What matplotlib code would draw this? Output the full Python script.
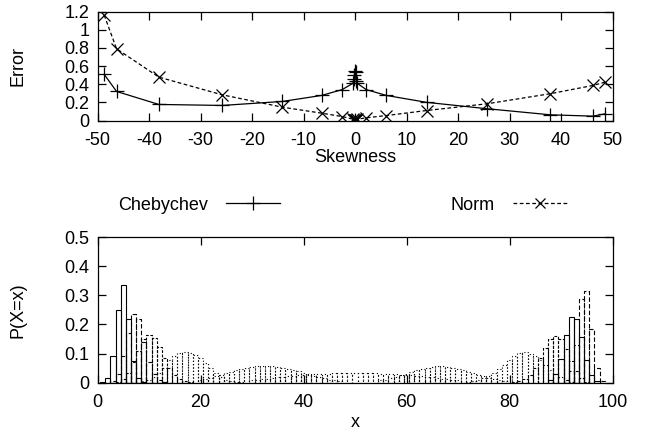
import matplotlib
matplotlib.use('Agg')
import matplotlib.pyplot as plt
from matplotlib.lines import Line2D
from matplotlib.ticker import FuncFormatter

plt.rcParams['font.family'] = ['Liberation Sans', 'DejaVu Sans']
plt.rcParams['font.size'] = 13
plt.rcParams['axes.unicode_minus'] = False

# top panel: error vs skewness
skewness = [-48.7, -46.3, -38.1, -25.8, -14.1, -6.5, -2.5, -0.4, -0.25, -0.1, 0.0,
            0.1, 0.25, 0.4, 2.2, 6.1, 13.9, 25.6, 37.9, 46.2, 48.6]
chebychev = [0.508, 0.32, 0.177, 0.166, 0.21, 0.276, 0.34, 0.41, 0.46, 0.50, 0.55,
             0.53, 0.44, 0.41, 0.34, 0.276, 0.2, 0.13, 0.063, 0.048, 0.074]
norm = [1.16, 0.79, 0.478, 0.283, 0.147, 0.081, 0.044, 0.015, 0.01, 0.005, 0.003,
        0.005, 0.01, 0.015, 0.03, 0.055, 0.11, 0.184, 0.295, 0.386, 0.423]

# bottom panel: the distributions, (first x, probabilities)
dist_l1 = (1, [0.003, 0.017, 0.09, 0.25, 0.335, 0.22, 0.075, 0.015, 0.002])
dist_l2 = (3, [0.005, 0.03, 0.09, 0.17, 0.237, 0.217, 0.14, 0.07, 0.03, 0.008, 0.003])
dist_l3 = (4, [0.003, 0.012, 0.035, 0.07, 0.11, 0.15, 0.163, 0.155, 0.123, 0.085,
               0.05, 0.025, 0.012, 0.005, 0.002])
dist_l4 = (9, [0.005, 0.01, 0.02, 0.035, 0.05, 0.078, 0.092, 0.102, 0.106, 0.103,
               0.095, 0.085, 0.068, 0.05, 0.033, 0.02, 0.011, 0.006, 0.003, 0.002])
dist_l5 = (20, [0.008, 0.012, 0.017, 0.022, 0.027, 0.032, 0.037, 0.042, 0.047, 0.051,
                0.054, 0.057, 0.058, 0.058, 0.057, 0.055, 0.052, 0.048, 0.044, 0.039,
                0.034, 0.029, 0.024, 0.019, 0.015, 0.011, 0.008, 0.005])
dist_mid = (30, [0.008, 0.01, 0.012, 0.014, 0.016, 0.018, 0.02, 0.022, 0.024, 0.026,
                 0.027, 0.028, 0.029, 0.03, 0.031, 0.031, 0.032, 0.032, 0.032, 0.032,
                 0.032, 0.032, 0.032, 0.032, 0.032, 0.031, 0.031, 0.03, 0.029, 0.028,
                 0.027, 0.026, 0.024, 0.022, 0.02, 0.018, 0.016, 0.014, 0.012, 0.01, 0.008])
dist_r5 = (55, [0.008, 0.011, 0.015, 0.02, 0.025, 0.031, 0.037, 0.043, 0.048, 0.052,
                0.055, 0.056, 0.056, 0.055, 0.052, 0.048, 0.043, 0.038, 0.033, 0.028,
                0.022, 0.017, 0.012, 0.008, 0.005])
dist_r4 = (72, [0.003, 0.006, 0.01, 0.016, 0.024, 0.034, 0.047, 0.062, 0.078, 0.092,
                0.101, 0.104, 0.1, 0.09, 0.078, 0.062, 0.045, 0.03, 0.018, 0.009, 0.004])
dist_r3 = (81, [0.002, 0.005, 0.012, 0.025, 0.05, 0.085, 0.12, 0.149, 0.16, 0.15,
                0.115, 0.075, 0.04, 0.015, 0.004])
dist_r2 = (88, [0.01, 0.03, 0.08, 0.163, 0.226, 0.22, 0.158, 0.078, 0.025, 0.006])
dist_r1 = (91, [0.01, 0.04, 0.13, 0.287, 0.315, 0.183, 0.049, 0.005])

dists = [dist_l1, dist_l2, dist_l3, dist_l4, dist_l5, dist_mid,
         dist_r5, dist_r4, dist_r3, dist_r2, dist_r1]
styles = ['-', (0, (4, 2)), (0, (2.5, 1.5)), (0, (1, 2)), (0, (1, 2)), (0, (1, 2.5)),
          (0, (1, 2)), (0, (1, 2)), (0, (2.5, 1.5)), '-', (0, (4, 2))]

fig = plt.figure(figsize=(6.47, 4.40), dpi=100)
ax1 = fig.add_axes([0.1507, 0.7261, 0.796, 0.2477])
ax2 = fig.add_axes([0.1507, 0.1302, 0.796, 0.3311])

ax1.plot(skewness, chebychev, color='black', lw=0.9, marker='+', ms=10, mew=0.9)
ax1.plot(skewness, norm, color='black', lw=0.9, ls=(0, (3, 2)), marker='x', ms=9, mew=0.9)
ax1.set_xlim(-50, 50)
ax1.set_ylim(0, 1.2)
ax1.set_xticks(range(-50, 51, 10))
ax1.set_yticks([0, 0.2, 0.4, 0.6, 0.8, 1.0, 1.2])
ax1.set_xlabel('Skewness')
ax1.set_ylabel('Error')
ax1.xaxis.set_label_coords(0.5, -0.26)
ax1.yaxis.set_label_coords(-0.137, 0.5)

for (start, probs), ls in zip(dists, styles):
    xs = list(range(start, start + len(probs)))
    ax2.bar(xs, probs, width=1, fill=False, edgecolor='black', linewidth=0.8, linestyle=ls)
ax2.set_xlim(0, 100)
ax2.set_ylim(0, 0.5)
ax2.set_xticks(range(0, 101, 20))
ax2.set_yticks([0, 0.1, 0.2, 0.3, 0.4, 0.5])
ax2.set_xlabel('x')
ax2.set_ylabel('P(X=x)')
ax2.xaxis.set_label_coords(0.5, -0.215)
ax2.yaxis.set_label_coords(-0.137, 0.5)

fmt = FuncFormatter(lambda v, p: '%g' % round(v, 3))
for ax in (ax1, ax2):
    ax.yaxis.set_major_formatter(fmt)
    ax.tick_params(direction='in', top=True, right=True, length=6, width=0.9, pad=8)
    ax.tick_params(axis='y', pad=6)
    for s in ax.spines.values():
        s.set_linewidth(0.9)

h_cheb = Line2D([], [], color='black', lw=0.9, marker='+', ms=10, mew=0.9)
h_norm = Line2D([], [], color='black', lw=0.9, ls=(0, (3, 2)), marker='x', ms=7, mew=0.9)
leg1 = fig.legend([h_cheb], ['Chebychev'], loc='center right', bbox_to_anchor=(280 / 647, 1 - 205 / 440),
                  frameon=False, markerfirst=False, handlelength=3.0, handletextpad=1.0,
                  borderpad=0, borderaxespad=0, numpoints=1)
leg2 = fig.legend([h_norm], ['Norm'], loc='center right', bbox_to_anchor=(567 / 647, 1 - 205 / 440),
                  frameon=False, markerfirst=False, handlelength=3.0, handletextpad=1.0,
                  borderpad=0, borderaxespad=0, numpoints=1)

fig.savefig('out.png', dpi=100)
